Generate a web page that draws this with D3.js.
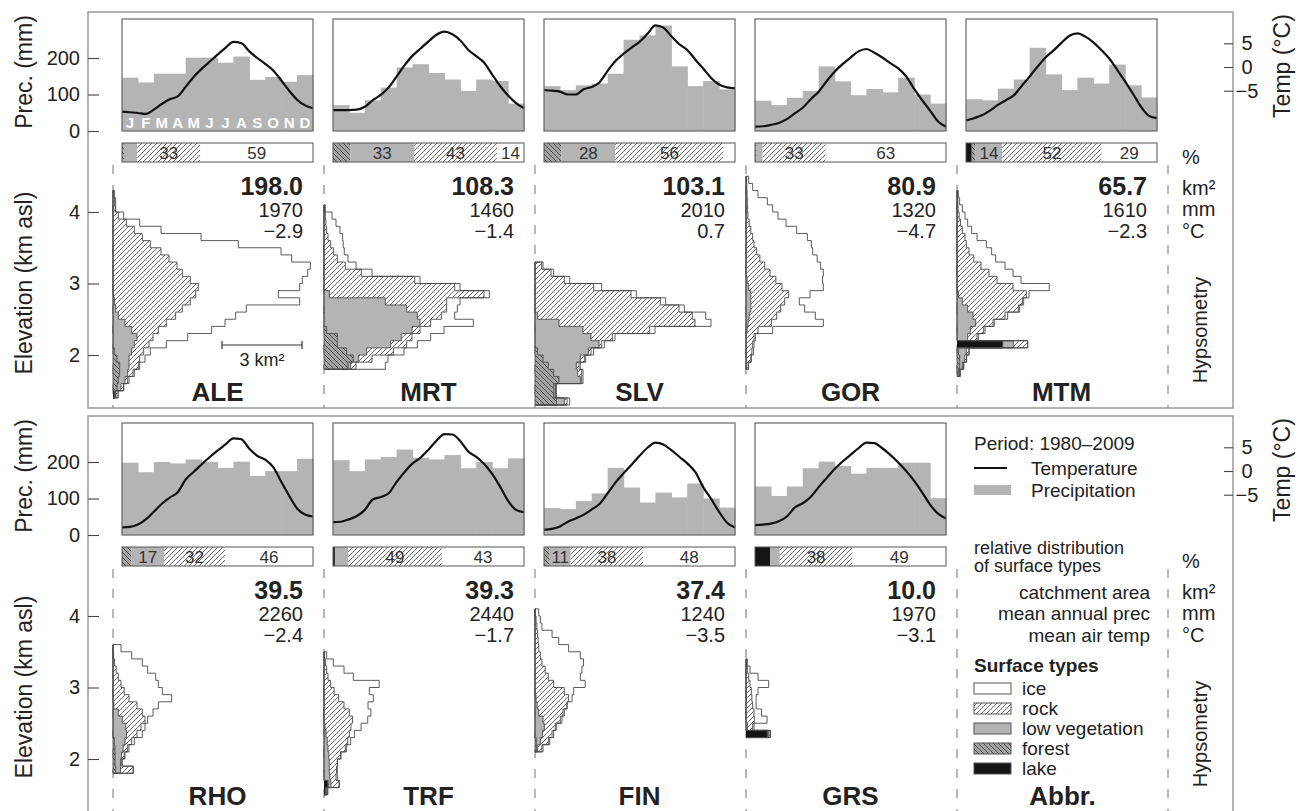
<!DOCTYPE html>
<html>
<head>
<meta charset="utf-8">
<script src="https://cdn.jsdelivr.net/npm/d3@7"></script>
<style>
  body { margin: 0; background: #fff; }
  svg text { font-family: "Liberation Sans", Arial, sans-serif; fill: #222; }
</style>
</head>
<body>
<svg id="chart" width="1305" height="811"></svg>
<script>
// ---- data ----
const basinNames = ["ALE", "MRT", "SLV", "GOR", "MTM", "RHO", "TRF", "FIN", "GRS"];
const catchArea = [198.0, 108.3, 103.1, 80.9, 65.7, 39.5, 39.3, 37.4, 10.0];
const annualPrec = [1970, 1460, 2010, 1320, 1610, 2260, 2440, 1240, 1970];
const meanAirTemp = [-2.9, -1.4, 0.7, -4.7, -2.3, -2.4, -1.7, -3.5, -3.1];

const months = ["J", "F", "M", "A", "M", "J", "J", "A", "S", "O", "N", "D"];
const precTicks = [0, 100, 200];
const tempTicks = [-5, 0, 5];
const elevTicks = [2, 3, 4];

// monthly precipitation (mm)
const monthlyPrec = [
  [146, 133, 157, 157, 201, 201, 187, 204, 140, 148, 135, 153],
  [71, 50, 84, 119, 174, 183, 159, 141, 110, 141, 137, 75],
  [123, 112, 125, 130, 157, 250, 262, 289, 177, 123, 137, 114],
  [83, 71, 91, 110, 177, 136, 98, 115, 106, 146, 100, 75],
  [87, 84, 116, 141, 228, 155, 112, 146, 130, 182, 125, 92],
  [198, 172, 200, 196, 207, 200, 184, 201, 162, 175, 175, 209],
  [205, 175, 207, 214, 234, 212, 207, 219, 183, 200, 183, 210],
  [74, 71, 93, 114, 184, 130, 89, 116, 103, 141, 100, 75],
  [133, 107, 133, 183, 201, 189, 168, 184, 184, 198, 198, 101]
];

// air temperature (°C) every half month, 1 Jan .. 31 Dec
const tempCurve = [
  [-9.4, -9.55, -9.7, -9.9, -9.0, -7.8, -6.8, -6.2, -4.2, -2.1, -0.4, 1.1, 2.6, 4.05, 5.3, 5.0, 3.3, 1.9, 0.66, -0.75, -2.8, -5.0, -6.9, -8.1, -8.7],
  [-9.1, -9.1, -9.1, -9.0, -8.4, -7.0, -5.9, -4.3, -2.0, 0.4, 2.4, 3.9, 5.4, 6.8, 7.45, 6.9, 5.6, 3.6, 2.3, 0.9, -1.6, -4.0, -6.0, -7.6, -8.7],
  [-4.85, -5.0, -5.2, -5.8, -5.8, -4.7, -4.2, -3.2, -0.8, 1.3, 2.8, 4.1, 5.3, 7.0, 8.8, 8.3, 6.5, 4.8, 3.6, 1.6, -0.3, -2.3, -3.7, -4.3, -4.5],
  [-12.6, -12.5, -12.2, -11.8, -11.0, -9.8, -8.6, -6.8, -5.2, -3.0, -1.0, 0.6, 2.0, 3.3, 3.8, 3.0, 2.0, 0.8, -0.3, -2.0, -4.6, -7.0, -9.2, -11.5, -12.6],
  [-11.3, -10.8, -10.2, -9.2, -8.0, -7.0, -6.0, -4.0, -2.0, 0.1, 2.0, 3.5, 5.1, 6.6, 7.1, 6.4, 5.2, 3.6, 1.8, -0.6, -3.1, -5.7, -8.4, -10.3, -10.8],
  [-11.9, -11.8, -11.3, -10.2, -8.6, -6.9, -5.6, -4.5, -1.8, -0.2, 1.4, 2.9, 4.3, 5.6, 6.9, 6.7, 4.7, 3.2, 2.4, 0.8, -2.2, -5.2, -7.9, -9.2, -9.6],
  [-10.8, -10.7, -10.2, -9.5, -8.2, -6.0, -5.5, -4.7, -2.3, -0.2, 1.6, 2.8, 4.5, 6.4, 7.8, 7.7, 6.3, 4.1, 3.0, 1.5, -0.6, -3.3, -6.3, -8.2, -8.7],
  [-12.4, -12.2, -11.7, -10.7, -10.0, -9.2, -8.1, -6.9, -4.7, -2.4, -0.5, 1.3, 3.2, 4.9, 6.0, 5.6, 4.4, 3.0, 1.6, -0.2, -3.4, -5.9, -8.6, -10.9, -11.9],
  [-11.4, -11.3, -11.1, -10.6, -9.6, -7.7, -6.8, -5.5, -3.4, -1.5, 0.4, 2.0, 3.4, 4.8, 6.0, 5.9, 4.8, 3.4, 1.8, 0.0, -2.1, -4.5, -7.1, -9.0, -10.0]
];

// surface types, share of catchment (%): lake, forest, low vegetation, rock, ice
const surfaceTypes = ["lake", "forest", "veg", "rock", "ice"];
const surfaceShare = [
  [0, 1, 7, 33, 59],
  [0, 9, 33, 43, 14],
  [0, 9, 28, 56, 6],
  [0, 0.5, 3.5, 33, 63],
  [3, 2, 14, 52, 29],
  [0, 5, 17, 32, 46],
  [1, 0, 7, 49, 43],
  [0, 3, 11, 38, 48],
  [8, 0, 5, 38, 49]
];

// hypsometry: lowest band (km asl), 100 m bands upward,
// area per band (km2) as [lake, forest, veg, rock, ice]
const hypsoBase = [1.4, 1.8, 1.3, 1.8, 1.7, 1.8, 1.5, 2.1, 2.3];
const hypsoALE = [
  [.05, .03, .02, .05, .05], [0, .15, .15, .1, 0], [0, .2, .25, .1, .05], [0, .25, .3, .2, .05],
  [0, .25, .35, .35, .05], [0, .15, .45, .4, .2], [0, .05, .65, .45, .25], [0, 0, .8, .55, .65],
  [0, 0, .9, .6, 1.3], [0, 0, .7, 1.0, 2.0], [0, 0, .45, 1.55, 2.2], [0, 0, .2, 2.15, 2.25],
  [0, 0, .1, 2.5, 2.4], [0, 0, .06, 2.84, 4.1], [0, 0, .02, 3.08, 3.1], [0, 0, 0, 3.2, 3.8],
  [0, 0, 0, 2.9, 4.2], [0, 0, 0, 2.6, 4.7], [0, 0, 0, 2.4, 5.0], [0, 0, 0, 2.1, 4.6],
  [0, 0, 0, 1.8, 4.5], [0, 0, 0, 1.4, 3.3], [0, 0, 0, 1.1, 2.2], [0, 0, 0, .8, 1.0],
  [0, 0, 0, .5, .5], [0, 0, 0, .2, .2], [0, 0, 0, .08, .02], [0, 0, 0, .05, .05], [0, 0, 0, .03, .02]
];
const hypsoMRT = [
  [0, .9, .1, .2, 1.1], [0, 1.1, .2, .5, .6], [0, .85, .75, 1.0, .4], [0, .5, 2.0, .6, .4],
  [0, .5, 2.4, .4, .7], [0, .1, 3.2, .3, .9], [0, 0, 3.6, .4, 1.6], [0, 0, 3.5, .9, .5],
  [0, 0, 3.1, 1.5, .4], [0, 0, 2.3, 2.3, .5], [0, 0, .2, 5.8, .2], [0, 0, 0, 4.9, .2],
  [0, 0, 0, 3.4, .2], [0, 0, 0, 1.4, .4], [0, 0, 0, .8, .4], [0, 0, 0, .5, .4],
  [0, 0, 0, .35, .41], [0, 0, 0, .25, .47], [0, 0, 0, .15, .55], [0, 0, 0, .1, .5],
  [0, 0, 0, .07, .38], [0, 0, 0, .05, .25], [0, 0, 0, .02, .03]
];
const hypsoSLV = [
  [0, .8, .3, .1, .1], [0, .7, .06, .02, .02], [0, .7, .06, .02, .02], [0, .9, .8, .05, .05],
  [0, .7, .9, .15, .05], [0, .5, 1.05, .1, .05], [0, .3, 1.4, .15, .05], [0, .1, 1.9, .1, .1],
  [0, 0, 2.4, .1, .1], [0, 0, 2.1, .8, .1], [0, 0, 1.8, 2.5, .2], [0, 0, .9, 5.1, .6],
  [0, 0, .1, 5.8, .5], [0, 0, 0, 5.4, .2], [0, 0, 0, 4.7, .2], [0, 0, 0, 3.6, .2],
  [0, 0, 0, 2.2, .3], [0, 0, 0, 1.1, .2], [0, 0, 0, .6, .1], [0, 0, 0, .25, .05]
];
const hypsoGOR = [
  [0, 0, 0, .08, .02], [0, 0, 0, .18, .02], [0, 0, 0, .22, .06], [0, 0, 0, .25, .05],
  [0, 0, 0, .3, .05], [0, 0, .04, .41, .55], [0, 0, .08, .87, 1.95], [0, 0, .12, 1.03, 1.45],
  [0, 0, .18, 1.12, .9], [0, 0, .18, 1.27, .55], [0, 0, .18, 1.42, .8], [0, 0, .1, 1.25, 1.55],
  [0, 0, .04, 1.08, 1.75], [0, 0, 0, .9, 2.0], [0, 0, 0, .7, 2.1], [0, 0, 0, .52, 2.15],
  [0, 0, 0, .4, 2.1], [0, 0, 0, .3, 2.15], [0, 0, 0, .25, 2.05], [0, 0, 0, .18, 1.72],
  [0, 0, 0, .12, 1.38], [0, 0, 0, .07, 1.13], [0, 0, 0, .06, .94], [0, 0, 0, .05, .75],
  [0, 0, 0, .04, .41], [0, 0, 0, .03, .22], [0, 0, 0, .02, .08]
];
const hypsoMTM = [
  [0, .05, .05, .02, 0], [0, .1, .1, .05, 0], [0, .1, .19, .07, 0], [0, .05, .3, .1, 0],
  [1.71, 0, .4, .54, 0], [0, 0, .4, .35, .05], [0, 0, .5, .5, .05], [0, 0, .7, .65, .05],
  [0, 0, .6, 1.2, .1], [0, 0, .4, 1.9, .05], [0, 0, .2, 2.25, .05], [0, 0, .05, 2.55, .1],
  [0, 0, 0, 2.1, 1.36], [0, 0, 0, 1.5, .9], [0, 0, 0, 1.2, .9], [0, 0, 0, .9, .9],
  [0, 0, 0, .63, .82], [0, 0, 0, .45, .85], [0, 0, 0, .35, .75], [0, 0, 0, .3, .45],
  [0, 0, 0, .2, .35], [0, 0, 0, .13, .27], [0, 0, 0, .08, .22], [0, 0, 0, .04, .16],
  [0, 0, 0, .03, .07], [0, 0, 0, .02, .03]
];
const hypsoRHO = [
  [0, .1, .18, .48, 0], [0, .08, .2, .05, .02], [0, .08, .24, .1, .03], [0, .07, .31, .17, .05],
  [0, .05, .4, .25, .1], [0, 0, .51, .39, .2], [0, 0, .48, .57, .15], [0, 0, .35, .85, .1],
  [0, 0, .2, .9, .4], [0, 0, .03, .87, .8], [0, 0, 0, .6, 1.6], [0, 0, 0, .42, 1.43],
  [0, 0, 0, .3, 1.4], [0, 0, 0, .2, 1.4], [0, 0, 0, .12, 1.18], [0, 0, 0, .06, 1.04],
  [0, 0, 0, .02, .68], [0, 0, 0, .01, .29]
];
const hypsoTRF = [
  [.05, 0, .05, .04, 0], [.15, 0, .11, .31, 0], [0, 0, .22, .23, .05], [0, 0, .2, .27, .03],
  [0, 0, .2, .3, .01], [0, 0, .18, .44, .02], [0, 0, .15, .65, .05], [0, 0, .12, .77, .11],
  [0, 0, .08, .87, .19], [0, 0, .04, .97, .38], [0, 0, 0, 1.07, .57], [0, 0, 0, .95, .81],
  [0, 0, 0, .75, .9], [0, 0, 0, .55, 1.3], [0, 0, 0, .38, 1.32], [0, 0, 0, .25, 1.82],
  [0, 0, 0, .15, .95], [0, 0, 0, .1, .65], [0, 0, 0, .06, .29], [0, 0, 0, .02, .08]
];
const hypsoFIN = [
  [0, .05, .05, .16, .04], [0, .05, .15, .3, .05], [0, 0, .28, .36, .06], [0, 0, .35, .41, .04],
  [0, 0, .3, .65, .06], [0, 0, .14, .91, .05], [0, 0, .08, 1.12, 0], [0, 0, .04, 1.22, .13],
  [0, 0, 0, 1.1, .35], [0, 0, 0, .7, 1.18], [0, 0, 0, .5, 1.2], [0, 0, 0, .38, 1.38],
  [0, 0, 0, .26, 1.56], [0, 0, 0, .2, 1.5], [0, 0, 0, .14, 1.12], [0, 0, 0, .12, .77],
  [0, 0, 0, .1, .54], [0, 0, 0, .07, .19], [0, 0, 0, .04, .16], [0, 0, 0, .02, .12]
];
const hypsoGRS = [
  [.8, 0, .05, .05, .02], [0, 0, .05, .2, .05], [0, 0, 0, .31, .48], [0, 0, 0, .3, .28],
  [0, 0, 0, .25, .13], [0, 0, 0, .22, .16], [0, 0, 0, .2, .25], [0, 0, 0, .15, .7],
  [0, 0, 0, .1, .35], [0, 0, 0, .05, .1], [0, 0, 0, .02, .03]
];
const hypso = [hypsoALE, hypsoMRT, hypsoSLV, hypsoGOR, hypsoMTM, hypsoRHO, hypsoTRF, hypsoFIN, hypsoGRS];

const legendTypes = ["ice", "rock", "low vegetation", "forest", "lake"];
const legendKeys = ["ice", "rock", "veg", "forest", "lake"];

// ---- drawing ----
var FONT = "Liberation Sans, Arial, sans-serif";
var svg = d3.select("#chart");
var colW = 211, frameL = 88, frameR = 1233, panelH = 396, shift = 404;
var grey = "#b4b4b4";

var defs = svg.append("defs");
function hatch(id, bg, d, stroke) {
  var p = defs.append("pattern").attr("id", id)
    .attr("patternUnits", "userSpaceOnUse")
    .attr("width", 5).attr("height", 5);
  p.append("rect").attr("width", 5).attr("height", 5).attr("fill", bg);
  p.append("path").attr("d", d).attr("stroke", stroke)
    .attr("stroke-width", 0.8).attr("fill", "none");
}
hatch("rock", "#fff", "M-1,6L6,-1M-1,1L1,-1M4,6L6,4", "#444");
hatch("forest", "#a4a4a4", "M-1,-1L6,6M4,-1L6,1M-1,4L1,6", "#333");
var fills = {lake: "#141414", forest: "url(#forest)", veg: grey, rock: "url(#rock)", ice: "#fff"};

function styleAxis(g) {
  g.select(".domain").remove();
  g.selectAll("line").attr("stroke", "#444").attr("stroke-width", 1.1);
  g.selectAll("text").attr("font-size", 20).attr("font-family", FONT).attr("fill", "#222");
}

function label(x, y, txt, size, opts) {
  opts = opts || {};
  return svg.append("text")
    .attr("transform", "translate(" + x + "," + y + ")" + (opts.rot ? " rotate(-90)" : ""))
    .attr("text-anchor", opts.anchor || "start")
    .attr("font-size", size)
    .attr("font-weight", opts.bold ? "bold" : "normal")
    .text(txt);
}

[0, 1].forEach(function(p) {
  var dy = p * shift;

  svg.append("rect")
    .attr("x", frameL).attr("y", 12 + dy)
    .attr("width", frameR - frameL).attr("height", panelH)
    .attr("fill", "none").attr("stroke", "#9a9a9a").attr("stroke-width", 1.5);

  // column separators
  d3.range(6).forEach(function(c) {
    svg.append("line")
      .attr("x1", 113 + colW * c).attr("x2", 113 + colW * c)
      .attr("y1", 165 + dy).attr("y2", 12 + panelH + dy)
      .attr("stroke", "#8a8a8a").attr("stroke-width", 1.2)
      .attr("stroke-dasharray", "9,11");
  });

  var precY = d3.scaleLinear().domain([0, 200]).range([131 + dy, 58 + dy]);
  var tempY = d3.scaleLinear().domain([-5, 5]).range([90.7 + dy, 43.3 + dy]);
  var elevY = d3.scaleLinear().domain([2, 4]).range([355 + dy, 212 + dy]);

  svg.append("g").attr("transform", "translate(" + frameL + ",0)")
    .call(d3.axisLeft(precY).tickValues(precTicks).tickSize(-11).tickPadding(8))
    .call(styleAxis);
  svg.append("g").attr("transform", "translate(" + frameL + ",0)")
    .call(d3.axisLeft(elevY).tickValues(elevTicks).tickFormat(d3.format("d")).tickSize(-11).tickPadding(8))
    .call(styleAxis);
  svg.append("g").attr("transform", "translate(" + frameR + ",0)")
    .call(d3.axisRight(tempY).tickValues(tempTicks).tickSize(-9).tickPadding(14))
    .call(styleAxis)
    .call(g => g.selectAll("text").attr("text-anchor", "middle"));

  label(32, 72 + dy, "Prec. (mm)", 23, {rot: true, anchor: "middle"});
  label(32, 283 + dy, "Elevation (km asl)", 23, {rot: true, anchor: "middle"});
  label(1290, 66 + dy, "Temp (°C)", 23, {rot: true, anchor: "middle"});
  label(1207, 330 + dy, "Hypsometry", 20, {rot: true, anchor: "middle"});

  label(1182, 164 + dy, "%", 20);
  label(1182, 195 + dy, "km²", 20);
  label(1182, 216 + dy, "mm", 20);
  label(1182, 238 + dy, "°C", 20);
});

basinNames.forEach(function(name, k) {
  var p = k < 5 ? 0 : 1, c = k < 5 ? k : k - 5, dy = p * shift;
  var bx = 122 + colW * c, bw = 191, top = 19 + dy, bot = 131 + dy;

  var precY = d3.scaleLinear().domain([0, 200]).range([131 + dy, 58 + dy]);
  var tempY = d3.scaleLinear().domain([-5, 5]).range([90.7 + dy, 43.3 + dy]);
  var monthX = d3.scaleBand().domain(d3.range(12)).range([bx, bx + bw]);
  var dayX = d3.scaleLinear().domain([0, 24]).range([bx, bx + bw]);

  var g = svg.append("g").attr("class", "basin");

  g.selectAll(".prec").data(monthlyPrec[k]).enter().append("rect")
    .attr("class", "prec")
    .attr("x", (d, i) => monthX(i))
    .attr("width", monthX.bandwidth() + 0.6)
    .attr("y", d => precY(d))
    .attr("height", d => precY(0) - precY(d))
    .attr("fill", grey);

  if (k === 0) {
    g.selectAll(".mon").data(months).enter().append("text")
      .attr("x", (d, i) => monthX(i) + monthX.bandwidth() / 2)
      .attr("y", bot - 3)
      .attr("text-anchor", "middle")
      .attr("font-size", 15).attr("font-weight", "bold")
      .style("fill", "#fff")
      .text(d => d);
  }

  g.append("path").datum(tempCurve[k])
    .attr("d", d3.line().x((d, i) => dayX(i)).y(d => tempY(d)).curve(d3.curveMonotoneX))
    .attr("fill", "none").attr("stroke", "#111").attr("stroke-width", 2.2);

  g.append("rect").attr("x", bx).attr("y", top).attr("width", bw).attr("height", bot - top)
    .attr("fill", "none").attr("stroke", "#666").attr("stroke-width", 1.2);

  // surface type bar
  var share = surfaceShare[k];
  var shareX = d3.scaleLinear().domain([0, d3.sum(share)]).range([bx, bx + bw]);
  var ends = Array.from(d3.cumsum(share));
  var segs = share.map((v, i) => ({key: surfaceTypes[i], v: v, x0: ends[i] - v, x1: ends[i]}));
  g.selectAll(".seg").data(segs).enter().append("rect")
    .attr("x", d => shareX(d.x0)).attr("width", d => shareX(d.x1) - shareX(d.x0))
    .attr("y", 143 + dy).attr("height", 19)
    .attr("fill", d => fills[d.key]);
  g.append("rect").attr("x", bx).attr("y", 143 + dy).attr("width", bw).attr("height", 19)
    .attr("fill", "none").attr("stroke", "#555").attr("stroke-width", 1);
  g.selectAll(".segl").data(segs.filter(d => d.v >= 10)).enter().append("text")
    .attr("x", d => shareX((d.x0 + d.x1) / 2)).attr("y", 159 + dy)
    .attr("text-anchor", "middle").attr("font-size", 17)
    .style("fill", "#333")
    .text(d => Math.round(d.v));

  // stats
  var sx = bx + bw - 10;
  g.append("text").attr("x", sx).attr("y", 195 + dy).attr("text-anchor", "end")
    .attr("font-size", 25).attr("font-weight", "bold").text(d3.format(".1f")(catchArea[k]));
  g.append("text").attr("x", sx).attr("y", 217 + dy).attr("text-anchor", "end")
    .attr("font-size", 20).text(annualPrec[k]);
  g.append("text").attr("x", sx).attr("y", 238 + dy).attr("text-anchor", "end")
    .attr("font-size", 20).text(d3.format(".1f")(meanAirTemp[k]));

  g.append("text").attr("x", bx + bw / 2).attr("y", 401 + dy).attr("text-anchor", "middle")
    .attr("font-size", 26).attr("font-weight", "bold").text(name);

  // hypsometry
  var base = 113 + colW * c;
  var elevY = d3.scaleLinear().domain([2, 4]).range([355 + dy, 212 + dy]);
  var areaX = d3.scaleLinear().domain([0, 3]).range([base, base + 80]);
  var rows = hypso[k].map((r, i) => {
    var o = {e: hypsoBase[k] + i * 0.1};
    surfaceTypes.forEach((t, j) => o[t] = r[j]);
    return o;
  });
  var series = d3.stack().keys(surfaceTypes)(rows);

  var steps = s => s.flatMap(d => [
    {e: d.data.e, lo: d[0], hi: d[1]},
    {e: d.data.e + 0.1, lo: d[0], hi: d[1]}
  ]);
  var area = d3.area().y(d => elevY(d.e)).x0(d => areaX(d.lo)).x1(d => areaX(d.hi));
  var edge = d3.line().x(d => areaX(d.hi)).y(d => elevY(d.e));

  series.forEach(function(s) {
    g.append("path").datum(steps(s)).attr("d", area)
      .attr("fill", fills[s.key]).attr("stroke", "none");
  });
  series.forEach(function(s) {
    var pts = steps(s);
    pts.unshift({e: pts[0].e, hi: 0});
    pts.push({e: pts[pts.length - 1].e, hi: 0});
    g.append("path").datum(pts).attr("d", edge)
      .attr("fill", "none").attr("stroke", "#4a4a4a").attr("stroke-width", 0.9);
  });

  if (k === 0) {
    var sb = 222, sw = areaX(3) - areaX(0), yb = 345;
    g.append("path")
      .attr("d", "M" + sb + "," + (yb - 4) + "V" + (yb + 4) + "M" + sb + "," + yb + "H" + (sb + sw) +
        "M" + (sb + sw) + "," + (yb - 4) + "V" + (yb + 4))
      .attr("stroke", "#333").attr("stroke-width", 1.2).attr("fill", "none");
    g.append("text").attr("x", sb + sw / 2).attr("y", 366).attr("text-anchor", "middle")
      .attr("font-size", 18).text("3 km²");
  }
});

// legend column (bottom panel)
var lx = 974, dy = shift;
label(lx, 450, "Period: 1980–2009", 19);
svg.append("line").attr("x1", lx).attr("x2", lx + 33).attr("y1", 468).attr("y2", 468)
  .attr("stroke", "#111").attr("stroke-width", 2.2);
label(lx + 57, 475, "Temperature", 19);
svg.append("rect").attr("x", lx).attr("y", 485).attr("width", 37).attr("height", 10).attr("fill", grey);
label(lx + 57, 497, "Precipitation", 19);

label(lx, 554, "relative distribution", 18);
label(lx, 572, "of surface types", 18);
label(1150, 599, "catchment area", 19, {anchor: "end"});
label(1150, 620, "mean annual prec", 19, {anchor: "end"});
label(1150, 642, "mean air temp", 19, {anchor: "end"});

label(lx, 672, "Surface types", 19, {bold: true});
legendTypes.forEach(function(t, i) {
  var y = 683 + i * 20;
  svg.append("rect").attr("x", lx).attr("y", y).attr("width", 37).attr("height", 11)
    .attr("fill", fills[legendKeys[i]]).attr("stroke", "#555").attr("stroke-width", 1);
  label(lx + 48, y + 12, t, 19);
});
label(957 + colW / 2, 401 + dy, "Abbr.", 26, {anchor: "middle", bold: true});
</script>
</body>
</html>
